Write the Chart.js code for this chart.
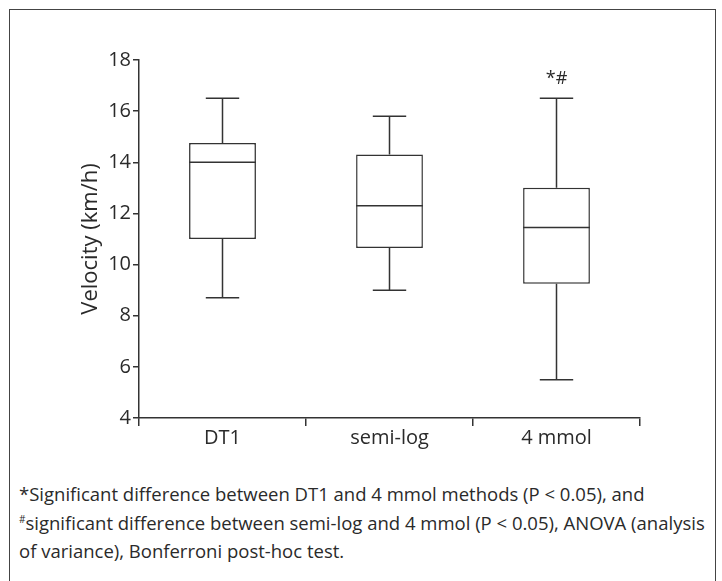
<!DOCTYPE html>
<html>
<head>
<meta charset="utf-8">
<script src="https://cdn.jsdelivr.net/npm/chart.js@4.4.0/dist/chart.umd.min.js"></script>
<style>
  body { margin: 0; background: #fff; }
  #frame { position: absolute; left: 9px; top: 9px; width: 705px; height: 620px; border: 1.5px solid #444; border-bottom: none; }
  #wrap { position: absolute; left: 0; top: 0; width: 722px; height: 460px; }
  #note { position: absolute; left: 19px; top: 480px; width: 700px; font-family: "Open Sans", sans-serif; font-size: 18.5px; line-height: 28.5px; color: #2a2a2a; white-space: nowrap; }
  #note sup { font-size: 10px; vertical-align: 7px; line-height: 0; }
</style>
</head>
<body>
<div id="frame"></div>
<div id="wrap"><canvas id="myChart"></canvas></div>
<div id="note">
  *Significant difference between DT1 and 4 mmol methods (P &lt; 0.05), and<br>
  <sup>#</sup>significant difference between semi-log and 4 mmol (P &lt; 0.05), ANOVA (analysis<br>
  of variance), Bonferroni post-hoc test.
</div>
<script>
// values
const categories = ["DT1", "semi-log", "4 mmol"];
const whiskerLow = [8.7, 9.0, 5.5];
const q1 = [11.0, 10.65, 9.25];
const median = [14.0, 12.3, 11.45];
const q3 = [14.75, 14.3, 13.0];
const whiskerHigh = [16.5, 15.8, 16.5];
const marks = ["", "", "*#"];
const yTicks = [4, 6, 8, 10, 12, 14, 16, 18];

const ink = "#333";
const font = "'Open Sans', sans-serif";

// whiskers, caps, median line and significance marks
const boxExtras = {
  id: "boxExtras",
  afterDatasetsDraw(chart) {
    const ctx = chart.ctx;
    const x = chart.scales.x;
    const y = chart.scales.y;
    const bars = chart.getDatasetMeta(0).data;
    ctx.save();
    ctx.strokeStyle = ink;
    ctx.lineWidth = 1.5;
    categories.forEach((c, i) => {
      const cx = x.getPixelForValue(i);
      const w = bars[i].width;
      const cap = w / 4;
      ctx.beginPath();
      ctx.moveTo(cx, y.getPixelForValue(whiskerHigh[i]));
      ctx.lineTo(cx, y.getPixelForValue(q3[i]));
      ctx.moveTo(cx, y.getPixelForValue(q1[i]));
      ctx.lineTo(cx, y.getPixelForValue(whiskerLow[i]));
      ctx.moveTo(cx - cap, y.getPixelForValue(whiskerHigh[i]));
      ctx.lineTo(cx + cap, y.getPixelForValue(whiskerHigh[i]));
      ctx.moveTo(cx - cap, y.getPixelForValue(whiskerLow[i]));
      ctx.lineTo(cx + cap, y.getPixelForValue(whiskerLow[i]));
      ctx.moveTo(cx - w / 2, y.getPixelForValue(median[i]));
      ctx.lineTo(cx + w / 2, y.getPixelForValue(median[i]));
      ctx.stroke();
      if (marks[i]) {
        ctx.fillStyle = "#2a2a2a";
        ctx.font = "18px " + font;
        ctx.textAlign = "center";
        ctx.textBaseline = "middle";
        ctx.fillText(marks[i], cx, y.getPixelForValue(whiskerHigh[i]) - 19);
      }
    });
    ctx.restore();
  }
};

const ctx = document.getElementById("myChart").getContext("2d");
const chart = new Chart(ctx, {
  type: "bar",
  data: {
    labels: categories,
    datasets: [
      {
        data: categories.map((c, i) => [q1[i], q3[i]]),
        backgroundColor: "#fff",
        borderColor: ink,
        borderWidth: 1.5,
        borderSkipped: false,
        barPercentage: 0.4,
        categoryPercentage: 1,
      },
    ],
  },
  options: {
    responsive: true,
    maintainAspectRatio: false,
    animation: false,
    layout: { padding: { top: 60, left: 0, right: 82, bottom: 0 } },
    plugins: {
      legend: { display: false },
      tooltip: { enabled: false },
    },
    scales: {
      x: {
        afterFit: (s) => { s.height = 42; },
        grid: { offset: true, drawOnChartArea: false, tickLength: 8, color: ink, lineWidth: 1.5 },
        border: { color: ink, width: 1.5 },
        ticks: { color: "#2a2a2a", font: { family: font, size: 20 }, padding: 0 },
      },
      y: {
        min: 4,
        max: 18,
        afterFit: (s) => { s.width = 139; },
        afterBuildTicks: (s) => { s.ticks = yTicks.map((v) => ({ value: v })); },
        grid: { drawOnChartArea: false, tickLength: 6, color: ink, lineWidth: 1.5 },
        border: { color: ink, width: 1.5 },
        ticks: { color: "#2a2a2a", font: { family: font, size: 20 }, padding: 2 },
        title: {
          display: true,
          text: "Velocity (km/h)",
          color: "#2a2a2a",
          font: { family: font, size: 22 },
          padding: { top: 78, bottom: 0 },
        },
      },
    },
  },
  plugins: [boxExtras],
});
</script>
</body>
</html>
